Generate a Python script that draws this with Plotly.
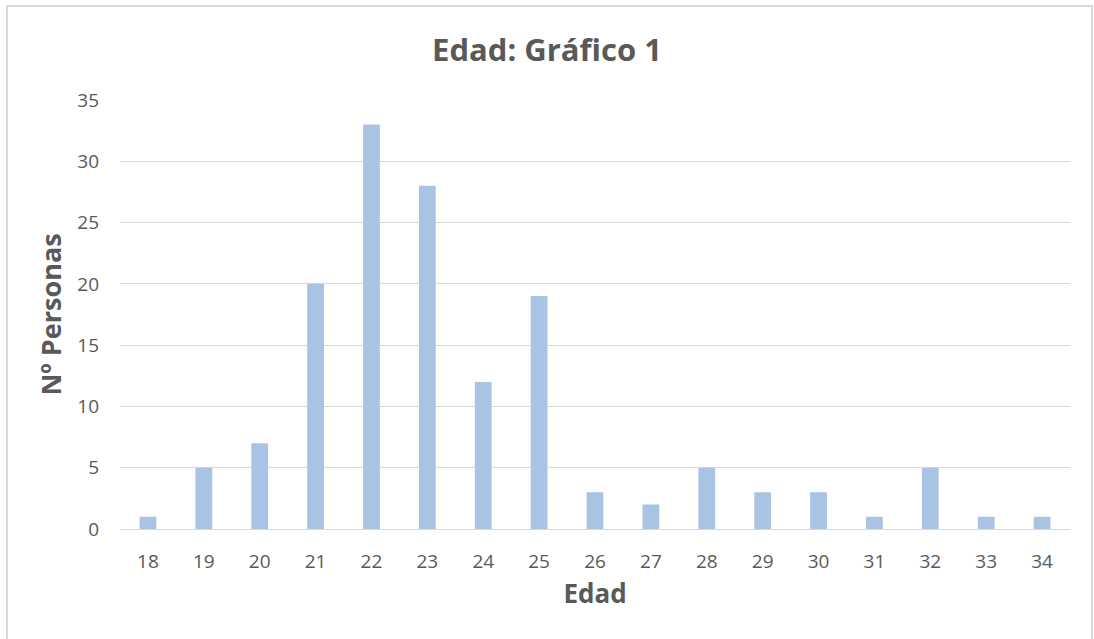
import plotly.graph_objects as go

# Age distribution
edades = ["18", "19", "20", "21", "22", "23", "24", "25", "26",
          "27", "28", "29", "30", "31", "32", "33", "34"]
personas = [1, 5, 7, 20, 33, 28, 12, 19, 3, 2, 5, 3, 3, 1, 5, 1, 1]

FONT = "Open Sans"
GRIS = "#595959"
LINEA = "#D9D9D9"

fig = go.Figure(
    go.Bar(
        x=edades,
        y=personas,
        marker=dict(color="#A9C3E5", line=dict(width=0)),
        width=0.3,
    )
)

fig.update_layout(
    width=1094,
    height=639,
    margin=dict(l=120, r=24, t=100, b=110),
    paper_bgcolor="white",
    plot_bgcolor="white",
    showlegend=False,
    font=dict(family=FONT, color=GRIS),
    title=dict(
        text="<b>Edad: Gráfico 1</b>",
        x=0.5, xref="container", xanchor="center",
        y=1 - 50 / 639, yref="container", yanchor="middle",
        font=dict(family=FONT, size=31, color=GRIS),
    ),
    xaxis=dict(
        type="category",
        showgrid=False,
        showline=True,
        linecolor=LINEA,
        linewidth=1,
        ticks="",
        ticklabelstandoff=15,
        tickfont=dict(size=19, color=GRIS),
        title=dict(text="<b>Edad</b>", font=dict(size=26, color=GRIS), standoff=12),
    ),
    yaxis=dict(
        range=[0, 35],
        dtick=5,
        showgrid=True,
        gridcolor=LINEA,
        gridwidth=1,
        zeroline=False,
        showline=False,
        ticks="",
        ticklabelstandoff=20,
        tickfont=dict(size=19, color=GRIS),
        title=dict(text="<b>Nº Personas</b>", font=dict(size=27, color=GRIS), standoff=7),
    ),
)

# Light frame around the whole chart area
fig.add_shape(
    type="rect",
    xref="paper", yref="paper",
    x0=(7 - 120) / 950, x1=(1092 - 120) / 950,
    y0=(529 - 645) / 429, y1=(529 - 6) / 429,
    line=dict(color=LINEA, width=2),
    fillcolor="rgba(0,0,0,0)",
    layer="below",
)

fig.write_html("out.html")
